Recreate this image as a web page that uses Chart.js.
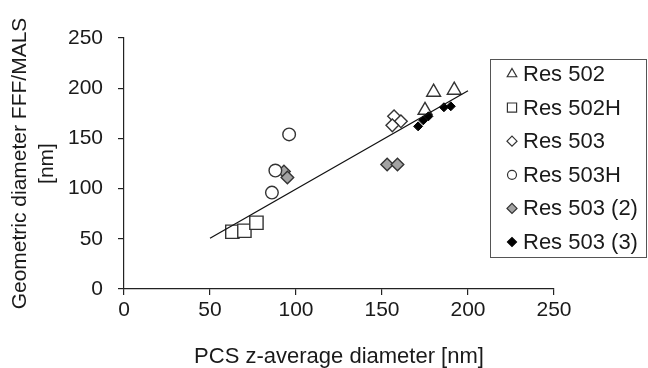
<!DOCTYPE html>
<html>
<head>
<meta charset="utf-8">
<script src="https://cdn.jsdelivr.net/npm/chart.js@4.4.1/dist/chart.umd.min.js"></script>
<style>
  html, body { margin: 0; padding: 0; background: #fff; }
  #wrap { width: 648px; height: 368px; }
</style>
</head>
<body>
<div id="wrap"><canvas id="c" width="648" height="368"></canvas></div>
<script>
// ---- data ----
const seriesLabels = ['Res 502', 'Res 502H', 'Res 503', 'Res 503H', 'Res 503 (2)', 'Res 503 (3)'];
const res502X  = [175, 180, 192];
const res502Y  = [178, 196, 198];
const res502HX = [63, 70, 77];
const res502HY = [57, 58, 66];
const res503X  = [157, 161, 156];
const res503Y  = [172, 167, 163];
const res503HX = [86, 88, 96];
const res503HY = [96, 118, 154];
const res503b2X = [93, 95, 153, 159];
const res503b2Y = [117, 111, 124, 124];
const res503b3X = [171, 174, 177, 186, 190];
const res503b3Y = [162, 168, 172, 181, 182];
const trendX = [50, 200];
const trendY = [50.5, 197.5];
const xTicks = [0, 50, 100, 150, 200, 250];
const yTicks = [0, 50, 100, 150, 200, 250];
const xTitle = 'PCS z-average diameter [nm]';
const yTitle = ['Geometric diameter FFF/MALS', '[nm]'];

function pts(xs, ys) { return xs.map((x, i) => ({ x: x, y: ys[i] })); }

const FONT = "'Liberation Sans', Arial, sans-serif";
const EDGE = '#333';

const datasets = [
  { label: '', data: pts(trendX, trendY), showLine: true, borderColor: '#111', borderWidth: 1.3,
    pointRadius: 0, fill: false, order: 0 },
  { label: seriesLabels[5], data: pts(res503b3X, res503b3Y), pointStyle: 'rectRot', pointRadius: 4.5,
    backgroundColor: '#000', borderColor: '#000', borderWidth: 1, order: 1, legendRadius: 4.5 },
  { label: seriesLabels[0], data: pts(res502X, res502Y), pointStyle: 'triangle', pointRadius: 8,
    backgroundColor: '#fff', borderColor: EDGE, borderWidth: 1.4, order: 2, legendRadius: 5.5 },
  { label: seriesLabels[1], data: pts(res502HX, res502HY), pointStyle: 'rect', pointRadius: 9.4,
    backgroundColor: '#fff', borderColor: EDGE, borderWidth: 1.4, order: 3, legendRadius: 6.5 },
  { label: seriesLabels[2], data: pts(res503X, res503Y), pointStyle: 'rectRot', pointRadius: 6.3,
    backgroundColor: '#fff', borderColor: EDGE, borderWidth: 1.4, order: 4, legendRadius: 5 },
  { label: seriesLabels[3], data: pts(res503HX, res503HY), pointStyle: 'circle', pointRadius: 6.3,
    backgroundColor: '#fff', borderColor: EDGE, borderWidth: 1.4, order: 5, legendRadius: 4.5 },
  { label: seriesLabels[4], data: pts(res503b2X, res503b2Y), pointStyle: 'rectRot', pointRadius: 6.3,
    backgroundColor: '#a3a3a3', borderColor: EDGE, borderWidth: 1.4, order: 6, legendRadius: 5 }
];

const legendBox = {
  id: 'legendBox',
  afterDraw(chart) {
    const ctx = chart.ctx;
    ctx.save();
    ctx.strokeStyle = '#555';
    ctx.lineWidth = 1;
    ctx.strokeRect(490.5, 59.5, 156, 198);
    ctx.font = '22px ' + FONT;
    ctx.textBaseline = 'middle';
    ctx.textAlign = 'left';
    seriesLabels.forEach((lab, i) => {
      const ds = chart.data.datasets.find(d => d.label === lab);
      const y = 74 + i * 33.6;
      ctx.fillStyle = ds.backgroundColor;
      ctx.strokeStyle = ds.borderColor;
      ctx.lineWidth = 1.2;
      Chart.helpers.drawPoint(ctx, { pointStyle: ds.pointStyle, radius: ds.legendRadius, borderWidth: 1.2, rotation: 0 }, 512, y);
      ctx.fillStyle = '#1a1a1a';
      ctx.fillText(lab, 523, y + 1);
    });
    ctx.restore();
  }
};

new Chart(document.getElementById('c'), {
  type: 'scatter',
  data: { datasets: datasets },
  options: {
    responsive: false,
    animation: false,
    devicePixelRatio: 1,
    layout: { padding: { left: 0, right: 94, top: 38, bottom: 0 } },
    plugins: { legend: { display: false }, tooltip: { enabled: false } },
    scales: {
      x: {
        type: 'linear', min: 0, max: 250,
        afterBuildTicks(s) { s.ticks = xTicks.map(v => ({ value: v })); },
        afterFit(s) { s.height = 79; },
        grid: { drawOnChartArea: false, drawTicks: true, tickLength: 6, color: '#222', lineWidth: 1.2 },
        border: { display: true, color: '#222', width: 1.2 },
        ticks: { color: '#1a1a1a', font: { family: FONT, size: 21 }, padding: 3, maxRotation: 0 },
        title: { display: true, text: xTitle, color: '#1a1a1a', font: { family: FONT, size: 22, lineHeight: 1.0 },
                 padding: { top: 0, bottom: 0 } }
      },
      y: {
        type: 'linear', min: 0, max: 250,
        afterBuildTicks(s) { s.ticks = yTicks.map(v => ({ value: v })); },
        afterFit(s) { s.width = 124; },
        grid: { drawOnChartArea: false, drawTicks: true, tickLength: 6, color: '#222', lineWidth: 1.2 },
        border: { display: true, color: '#222', width: 1.2 },
        ticks: { color: '#1a1a1a', font: { family: FONT, size: 21 }, padding: 15 },
        title: { display: true, text: yTitle, color: '#1a1a1a', font: { family: FONT, size: 21, lineHeight: 1.29 },
                 padding: { top: 7, bottom: 0 } }
      }
    }
  },
  plugins: [legendBox]
});
</script>
</body>
</html>
